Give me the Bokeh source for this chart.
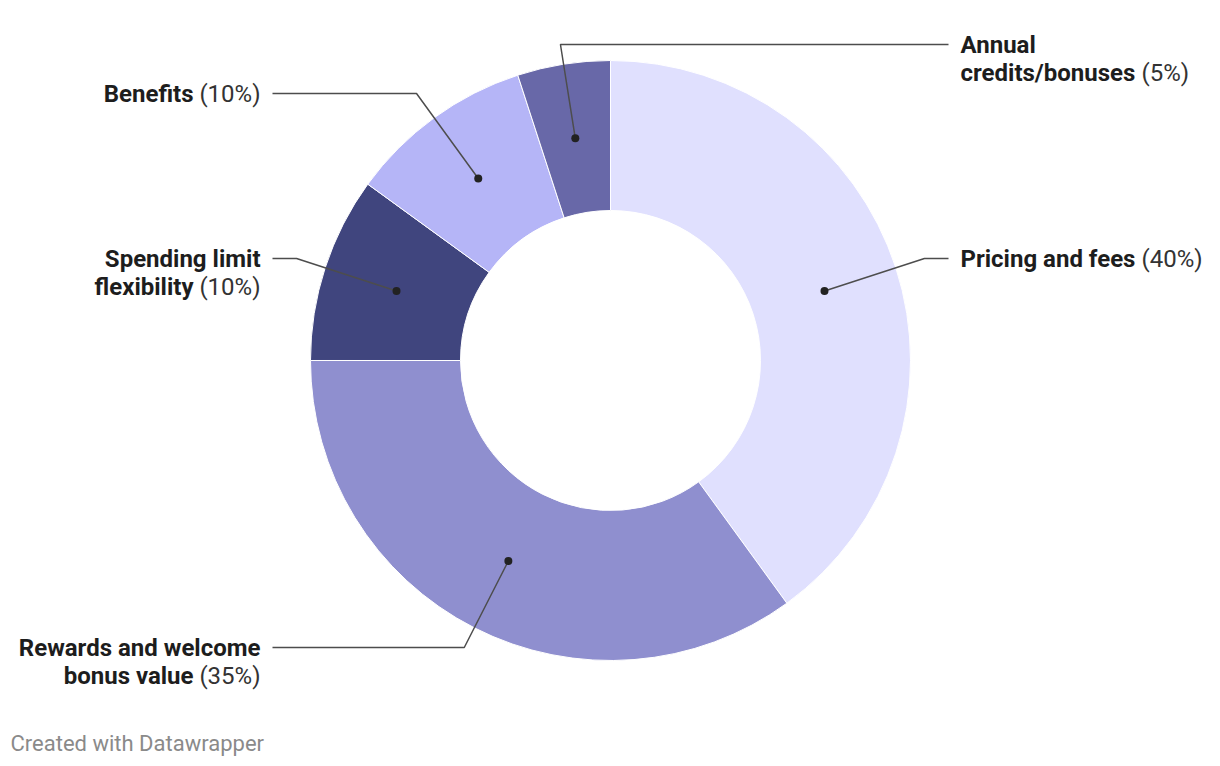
import numpy as np
from bokeh.plotting import figure
from bokeh.models import Range1d
from bokeh.core.properties import value
from bokeh.embed import file_html
from bokeh.resources import INLINE

# ---- data ----
categories = ["Pricing and fees", "Rewards and welcome bonus value",
              "Spending limit flexibility", "Benefits", "Annual credits/bonuses"]
label_lines = [["Pricing and fees"], ["Rewards and welcome", "bonus value"],
               ["Spending limit", "flexibility"], ["Benefits"], ["Annual", "credits/bonuses"]]
shares = [40, 35, 10, 10, 5]
colors = ["#e0e0fe", "#8f8fcf", "#40457e", "#b5b5f7", "#6868a8"]

# ---- layout ----
W, H = 1220, 766
CX, CY = 610, H - 360
R_IN, R_OUT = 150, 300
label_top_px = [258, 647, 258, 93, 44]          # y of first label line (px from top)
label_right = [True, False, False, False, True]
bold_last_width = [174, 130, 111, 88, 174]       # est. px width of last bold line
pct_width = 60
LINE_H = 28
FS = "24px"
FONT = "Roboto"

p = figure(width=W, height=H, output_backend="svg", toolbar_location=None,
           x_range=Range1d(0, W), y_range=Range1d(0, H), min_border=0)
p.axis.visible = False
p.grid.visible = False
p.outline_line_color = None
p.background_fill_color = "white"

total = float(sum(shares))
cum = np.concatenate([[0], np.cumsum(shares)]) / total
start = np.pi / 2 - cum[:-1] * 2 * np.pi
end = np.pi / 2 - cum[1:] * 2 * np.pi

p.annular_wedge(x=CX, y=CY, inner_radius=R_IN, outer_radius=R_OUT,
                start_angle=list(start), end_angle=list(end), direction="clock",
                fill_color=colors, line_color="white", line_width=1)

mid = (start + end) / 2
r_mid = (R_IN + R_OUT) / 2
dot_x = CX + r_mid * np.cos(mid)
dot_y = CY + r_mid * np.sin(mid)

line_col = "#4d4d4d"
for i, cat in enumerate(categories):
    ly = H - label_top_px[i]
    right = label_right[i]
    # elbow on radial ray
    t = (ly - dot_y[i]) / np.sin(mid[i])
    ex = dot_x[i] + t * np.cos(mid[i])
    endx = 948 if right else 272
    p.line([dot_x[i], ex, endx], [dot_y[i], ly, ly], line_color=line_col, line_width=1.5)
    lines = label_lines[i]
    pct = "(%d%%)" % shares[i]
    for j, txt in enumerate(lines):
        yy = ly - j * LINE_H
        last = j == len(lines) - 1
        if right:
            p.text(x=[960], y=[yy], text=[txt], text_font=value(FONT), text_font_style="bold",
                   text_font_size=FS, text_color="#1d1d1d", text_align="left", text_baseline="middle")
            if last:
                p.text(x=[960 + bold_last_width[i] + 7], y=[yy], text=[pct], text_font=value(FONT),
                       text_font_size=FS, text_color="#333333", text_align="left", text_baseline="middle")
        else:
            if last:
                p.text(x=[260], y=[yy], text=[pct], text_font=value(FONT),
                       text_font_size=FS, text_color="#333333", text_align="right", text_baseline="middle")
                p.text(x=[260 - pct_width - 7], y=[yy], text=[txt], text_font=value(FONT), text_font_style="bold",
                       text_font_size=FS, text_color="#1d1d1d", text_align="right", text_baseline="middle")
            else:
                p.text(x=[260], y=[yy], text=[txt], text_font=value(FONT), text_font_style="bold",
                       text_font_size=FS, text_color="#1d1d1d", text_align="right", text_baseline="middle")

p.scatter(x=list(dot_x), y=list(dot_y), size=8, fill_color="#222222", line_color=None)

p.text(x=[10], y=[H - 743], text=["Created with Datawrapper"], text_font=value(FONT),
       text_font_size="22px", text_color="#8a8a8a", text_align="left", text_baseline="middle")

open("out.html", "w").write(file_html(p, INLINE))
